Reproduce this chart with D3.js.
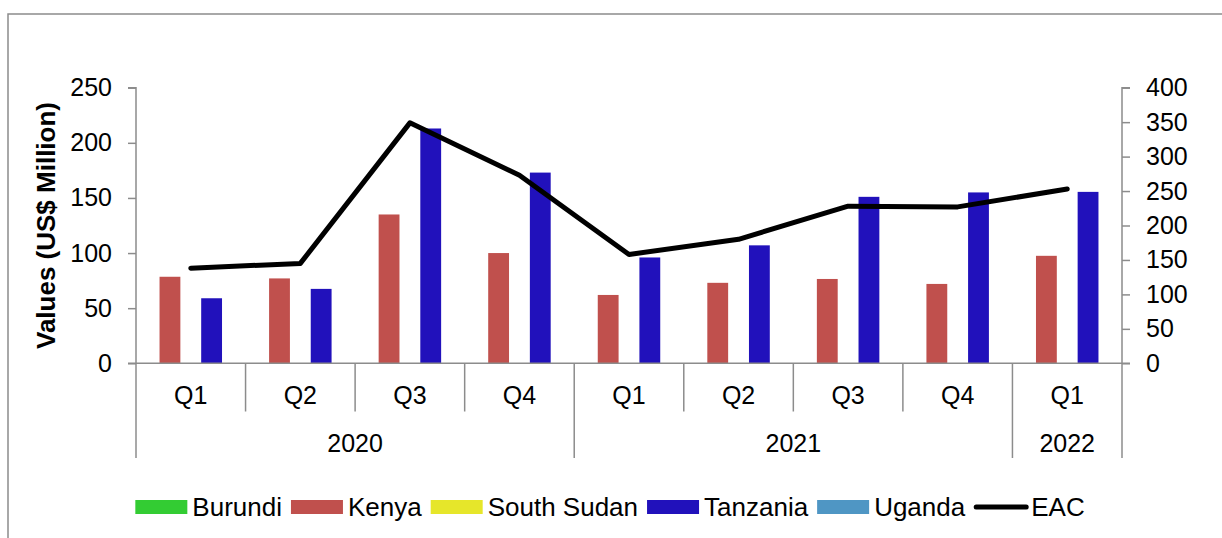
<!DOCTYPE html>
<html>
<head>
<meta charset="utf-8">
<script src="https://cdn.jsdelivr.net/npm/d3@7"></script>
<style>
  body { margin: 0; background: #fff; }
  text { font-family: "Liberation Sans", Arial, sans-serif; fill: #000; }
</style>
</head>
<body>
<script>
// data
var quarters = ["Q1", "Q2", "Q3", "Q4", "Q1", "Q2", "Q3", "Q4", "Q1"];
var years = [
  { label: "2020", from: 0, to: 4 },
  { label: "2021", from: 4, to: 8 },
  { label: "2022", from: 8, to: 9 }
];
var series = ["Burundi", "Kenya", "South Sudan", "Tanzania", "Uganda"];
var colors = ["#33CC33", "#C0504D", "#E6E62A", "#2111BB", "#4F96C4"];
var burundi = [0, 0, 0, 0, 0, 0, 0, 0, 0];
var kenya = [78.5, 77, 135, 100, 62, 73, 76.5, 72, 97.5];
var southSudan = [0, 0, 0, 0, 0, 0, 0, 0, 0];
var tanzania = [59, 67.5, 213, 173, 96, 107, 151, 155, 155.5];
var uganda = [0, 0, 0, 0, 0, 0, 0, 0, 0];
var eac = [138, 145, 349, 273, 158, 180, 228, 227, 253];
var leftTicks = [0, 50, 100, 150, 200, 250];
var rightTicks = [0, 50, 100, 150, 200, 250, 300, 350, 400];

var values = [burundi, kenya, southSudan, tanzania, uganda];

var W = 1222, H = 538;
var pLeft = 136, pRight = 1122, pTop = 87.7, pBottom = 363.3;
var axisColor = "#8c8c8c";

var svg = d3.select("body").append("svg")
    .attr("width", W)
    .attr("height", H);

// outer frame (only top and left edges show in the picture)
svg.append("rect")
  .attr("x", 8).attr("y", 14)
  .attr("width", 1240).attr("height", 560)
  .attr("fill", "none")
  .attr("stroke", "#8c8c8c")
  .attr("stroke-width", 1.5);

var x = d3.scaleBand()
    .domain(d3.range(quarters.length))
    .range([pLeft, pRight])
    .padding(0);

var xs = d3.scaleBand()
    .domain(series)
    .range([0, x.bandwidth()])
    .paddingInner(0)
    .paddingOuter(0.13);

var yL = d3.scaleLinear().domain([0, 250]).range([pBottom, pTop]);
var yR = d3.scaleLinear().domain([0, 400]).range([pBottom, pTop]);

// bars
series.forEach(function (s, si) {
  svg.append("g").selectAll("rect")
    .data(values[si])
    .enter()
    .append("rect")
    .attr("x", (d, i) => x(i) + xs(s))
    .attr("width", xs.bandwidth())
    .attr("y", d => yL(d))
    .attr("height", d => yL(0) - yL(d))
    .attr("fill", colors[si]);
});

// left axis
var gl = svg.append("g")
  .attr("transform", "translate(" + pLeft + ",0)")
  .call(d3.axisLeft(yL).tickValues(leftTicks).tickSize(8).tickPadding(16));
gl.select(".domain").attr("stroke", axisColor).attr("stroke-width", 1.5)
  .attr("d", "M-8," + pTop + "H0V" + pBottom);
gl.selectAll(".tick line").attr("stroke", axisColor).attr("stroke-width", 1.5);
gl.selectAll(".tick text").style("font-size", "25px")
  .style("font-family", "Liberation Sans, Arial, sans-serif").attr("fill", "#000");

// right axis
var gr = svg.append("g")
  .attr("transform", "translate(" + pRight + ",0)")
  .call(d3.axisRight(yR).tickValues(rightTicks).tickSize(8).tickPadding(16));
gr.select(".domain").attr("stroke", axisColor).attr("stroke-width", 1.5)
  .attr("d", "M8," + pTop + "H0V" + pBottom);
gr.selectAll(".tick line").attr("stroke", axisColor).attr("stroke-width", 1.5);
gr.selectAll(".tick text").style("font-size", "25px")
  .style("font-family", "Liberation Sans, Arial, sans-serif").attr("fill", "#000");

// category axis
var gx = svg.append("g");
gx.append("line")
  .attr("x1", pLeft - 8).attr("x2", pRight + 8)
  .attr("y1", pBottom).attr("y2", pBottom)
  .attr("stroke", axisColor).attr("stroke-width", 1.5);

var bounds = d3.range(quarters.length + 1);
var yearEdges = [0, 4, 8, 9];
gx.selectAll(".sep")
  .data(bounds)
  .enter()
  .append("line")
  .attr("x1", d => pLeft + d * x.step())
  .attr("x2", d => pLeft + d * x.step())
  .attr("y1", pBottom)
  .attr("y2", d => yearEdges.indexOf(d) >= 0 ? 458 : 411.5)
  .attr("stroke", axisColor).attr("stroke-width", 1.5);

gx.selectAll(".q")
  .data(quarters)
  .enter()
  .append("text")
  .attr("x", (d, i) => x(i) + x.bandwidth() / 2)
  .attr("y", 404)
  .attr("text-anchor", "middle")
  .style("font-size", "25px")
  .text(d => d);

gx.selectAll(".yr")
  .data(years)
  .enter()
  .append("text")
  .attr("x", d => pLeft + (d.from + d.to) / 2 * x.step())
  .attr("y", 452)
  .attr("text-anchor", "middle")
  .style("font-size", "25px")
  .text(d => d.label);

// EAC line on the right axis
var line = d3.line()
  .x((d, i) => x(i) + x.bandwidth() / 2)
  .y(d => yR(d));

svg.append("path")
  .datum(eac)
  .attr("d", line)
  .attr("fill", "none")
  .attr("stroke", "#000")
  .attr("stroke-width", 5)
  .attr("stroke-linecap", "round")
  .attr("stroke-linejoin", "round");

// y title
svg.append("text")
  .attr("transform", "translate(55," + ((pTop + pBottom) / 2) + ") rotate(-90)")
  .attr("text-anchor", "middle")
  .style("font-size", "26px")
  .style("font-weight", "bold")
  .text("Values (US$ Million)");

// legend
var lg = svg.append("g");
var items = series.map((s, i) => ({ name: s, color: colors[i], type: "rect" }));
items.push({ name: "EAC", color: "#000", type: "line" });

var cx = 0;
items.forEach(function (it) {
  var g = lg.append("g").attr("transform", "translate(" + cx + ",0)");
  if (it.type === "rect") {
    g.append("rect").attr("x", 0).attr("y", -7).attr("width", 52).attr("height", 14)
      .attr("fill", it.color);
  } else {
    g.append("line").attr("x1", 2).attr("x2", 52).attr("y1", 0).attr("y2", 0)
      .attr("stroke", "#000").attr("stroke-width", 5).attr("stroke-linecap", "round");
  }
  var t = g.append("text").attr("x", 57).attr("y", 9)
    .style("font-size", "26px").text(it.name);
  cx += 57 + t.node().getComputedTextLength() + 9;
});
var lgW = cx - 9;
lg.attr("transform", "translate(" + (610 - lgW / 2) + ",507)");
</script>
</body>
</html>
